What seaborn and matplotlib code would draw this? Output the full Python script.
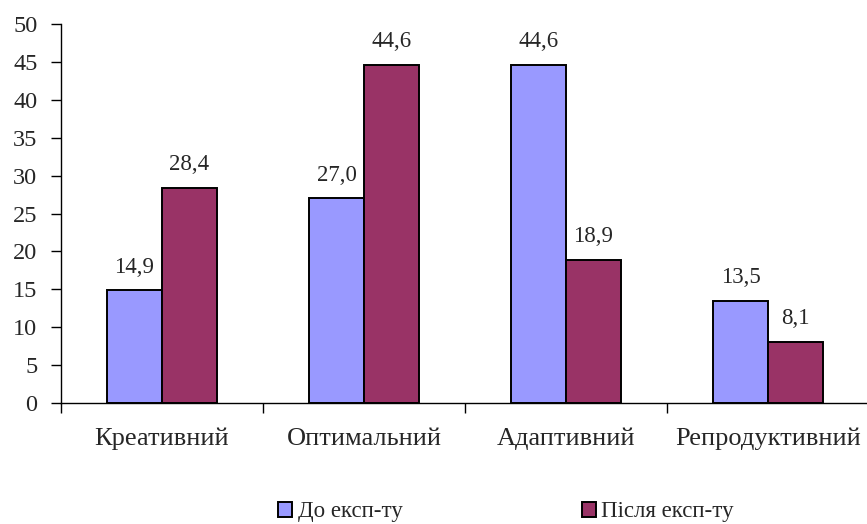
import matplotlib
matplotlib.use("Agg")
import matplotlib.pyplot as plt
import matplotlib.patches as mpatches
import pandas as pd
import seaborn as sns

categories = ["Креативний", "Оптимальний", "Адаптивний", "Репродуктивний"]
series_names = ["До експ-ту", "Після експ-ту"]
before = [14.9, 27.0, 44.6, 13.5]
after = [28.4, 44.6, 18.9, 8.1]
y_ticks = [0, 5, 10, 15, 20, 25, 30, 35, 40, 45, 50]

colors = ["#9999FF", "#993366"]

df = pd.DataFrame({
    "category": categories * 2,
    "series": [series_names[0]] * 4 + [series_names[1]] * 4,
    "value": before + after,
})

sns.set_style("white")
plt.rcParams["font.family"] = ["Liberation Serif", "DejaVu Serif"]

W, H = 867, 524
fig = plt.figure(figsize=(W / 100, H / 100), dpi=100)
ax = fig.add_axes([61 / W, 121 / H, 808 / W, 379 / H])

sns.barplot(data=df, x="category", y="value", hue="series",
            palette=colors, width=0.545, edgecolor="black", linewidth=1.4,
            ax=ax, legend=False, saturation=1)

for cont in ax.containers:
    ax.bar_label(cont, labels=[f"{v:.1f}".replace(".", ",") for v in cont.datavalues],
                 padding=9, fontsize=16.5)

ax.set_xlim(-0.5, 3.5)
ax.set_ylim(0, 50)
ax.set_yticks(y_ticks)
ax.set_yticklabels([str(t) for t in y_ticks], fontsize=17.5)
ax.set_xticks(range(len(categories)))
ax.set_xticklabels(categories, fontsize=19)
ax.tick_params(axis="x", length=0, pad=18)
ax.tick_params(axis="y", length=7, width=1, direction="out", left=True, pad=10, color="black")
# boundary ticks between categories
ax.set_xticks([-0.5, 0.5, 1.5, 2.5, 3.5], minor=True)
ax.tick_params(axis="x", which="minor", length=7, width=1, direction="out", bottom=True, color="black")
ax.set_xlabel("")
ax.set_ylabel("")
for s in ["top", "right"]:
    ax.spines[s].set_visible(False)
for s in ["left", "bottom"]:
    ax.spines[s].set_color("black")
    ax.spines[s].set_linewidth(1)

handles = [mpatches.Patch(facecolor=c, edgecolor="black", linewidth=1.4, label=n)
           for c, n in zip(colors, series_names)]
fig.legend(handles=handles, loc="center", bbox_to_anchor=(506 / W, 1 - 512 / H),
           ncol=2, frameon=False, fontsize=16.5, handlelength=0.62, handleheight=0.62,
           handletextpad=0.25, columnspacing=7.8)

fig.savefig("out.png", dpi=100)
